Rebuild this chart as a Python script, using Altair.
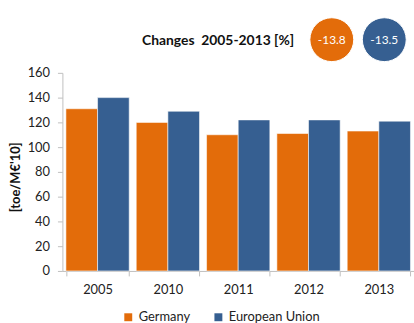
import altair as alt
import pandas as pd

years = ["2005", "2010", "2011", "2012", "2013"]
germany = [131, 120, 110, 111, 113]
eu = [140, 129, 122, 122, 121]
series = ["Germany", "European Union"]
colors = ["#E36C0A", "#365F91"]
changes = ["-13.8", "-13.5"]
title_text = "Changes\u00a0\u00a02005-2013 [%]"
y_title = "[toe/M€'10]"

rows = []
for i, y in enumerate(years):
    rows.append({"year": y, "series": series[0], "value": germany[i]})
    rows.append({"year": y, "series": series[1], "value": eu[i]})
df = pd.DataFrame(rows)

FONT = "Lato"

bars = alt.Chart(df).mark_bar(stroke="#ffffff", strokeWidth=0.8, strokeOpacity=0.7).encode(
    x=alt.X("year:N", sort=years, title=None,
            scale=alt.Scale(paddingInner=0.1, paddingOuter=0.05),
            axis=alt.Axis(labelAngle=0, tickBand="extent", domainColor="#BFBFBF",
                          tickColor="#BFBFBF", tickSize=5, labelPadding=8,
                          labelFontSize=13, labelColor="#222222", labelFont=FONT)),
    xOffset=alt.XOffset("series:N", sort=series),
    y=alt.Y("value:Q", title=y_title,
            scale=alt.Scale(domain=[0, 160]),
            axis=alt.Axis(values=list(range(0, 161, 20)), grid=False, domainColor="#BFBFBF",
                          tickColor="#BFBFBF", tickSize=5, labelPadding=8,
                          labelFontSize=13, labelColor="#222222", labelFont=FONT,
                          titleFont=FONT, titleFontSize=13, titleFontWeight="bold",
                          titleColor="#111111", titleX=-40, titleY=105)),
    color=alt.Color("series:N", sort=series,
                    scale=alt.Scale(domain=series, range=colors),
                    legend=alt.Legend(title=None, orient="none", direction="horizontal",
                                      legendX=60, legendY=240, symbolType="square",
                                      symbolSize=64, symbolStrokeWidth=0,
                                      labelFontSize=13, labelFont=FONT, labelColor="#222222",
                                      columnPadding=22, symbolOffset=0)),
)

title_df = pd.DataFrame({"t": [title_text]})
title = alt.Chart(title_df).mark_text(align="right", baseline="middle", fontSize=14,
                                      fontWeight="bold", font=FONT, color="#111111").encode(
    text="t:N", x=alt.value(234), y=alt.value(-32))

layers = [bars, title]
cx = [272, 325]
for i in range(2):
    cdf = pd.DataFrame({"v": [changes[i]]})
    circ = alt.Chart(cdf).mark_circle(size=1963, opacity=1, color=colors[i],
                                      stroke="#ffffff", strokeWidth=1).encode(
        x=alt.value(cx[i]), y=alt.value(-33.5))
    txt = alt.Chart(cdf).mark_text(fontSize=12, font=FONT, color="white",
                                   baseline="middle", align="center").encode(
        text="v:N", x=alt.value(cx[i]), y=alt.value(-33.5))
    layers += [circ, txt]

chart = alt.layer(*layers).properties(
    width=355, height=200,
    autosize=alt.AutoSizeParams(type="none"),
    padding={"left": 63, "top": 72, "right": 0, "bottom": 51},
).configure_view(stroke=None).configure_axis(grid=False)

chart.save("out.html", embed_options={"renderer": "svg", "actions": False})
